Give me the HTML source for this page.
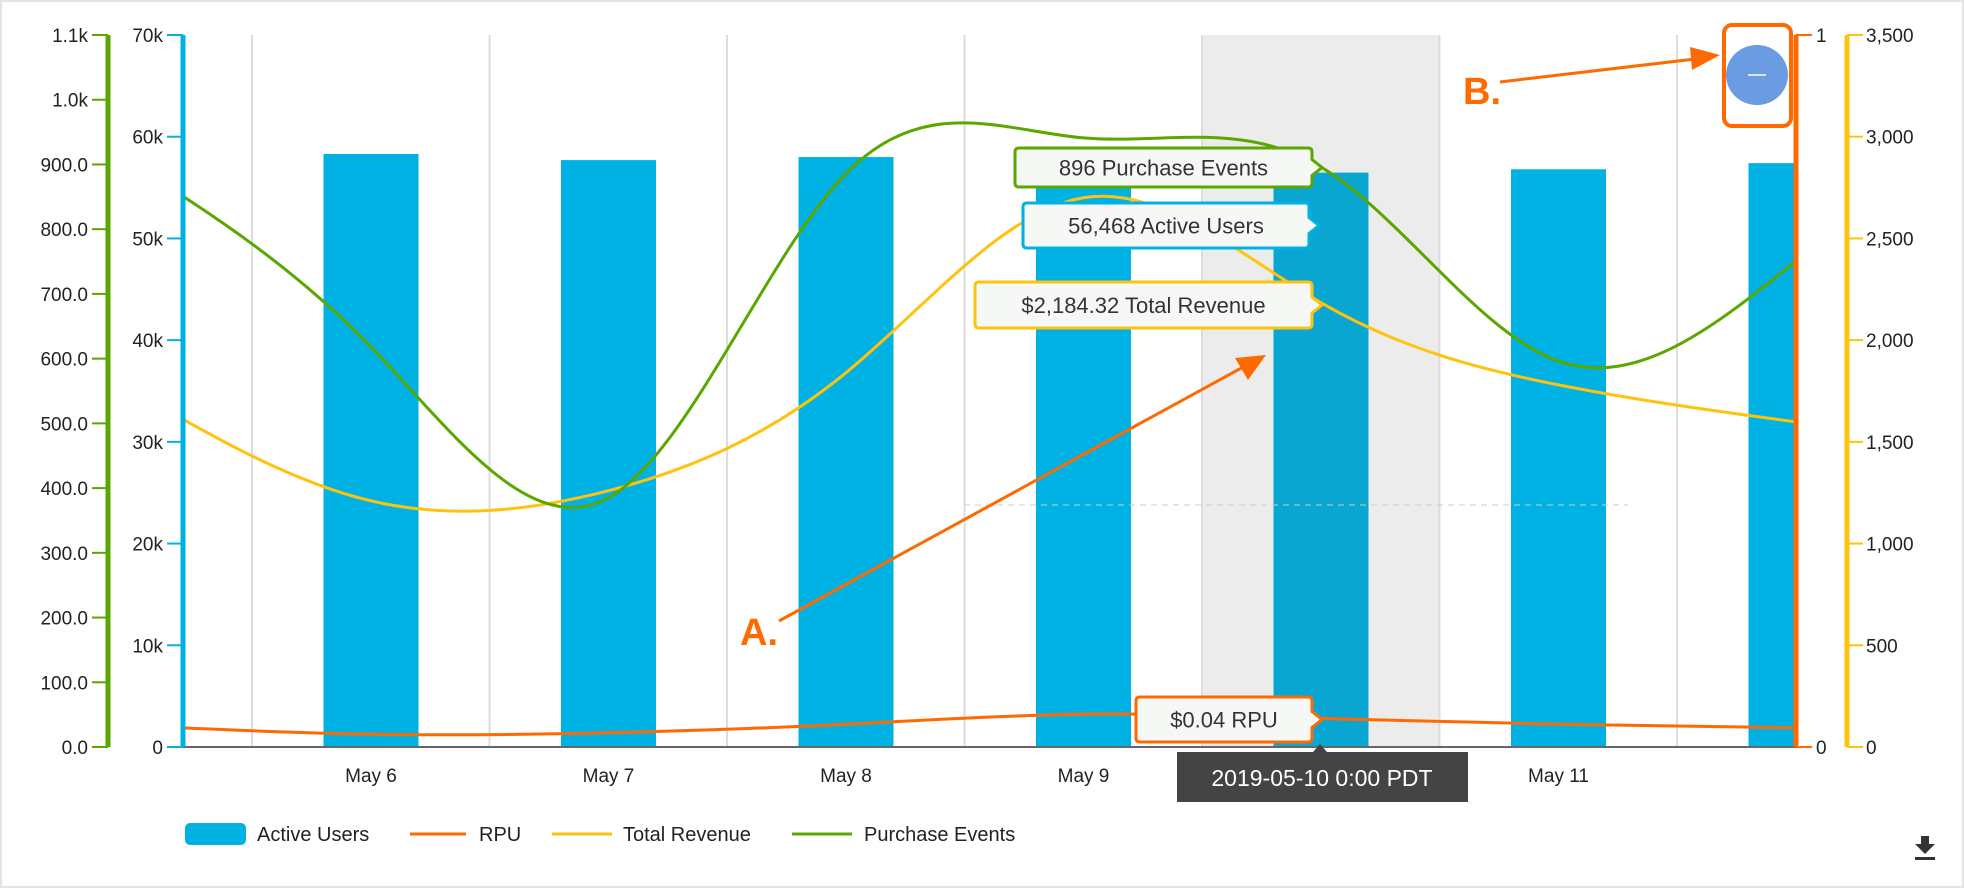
<!DOCTYPE html>
<html><head><meta charset="utf-8"><style>
html,body{margin:0;padding:0;background:#fff;}
svg{display:block;font-family:"Liberation Sans",sans-serif;}
</style></head><body>
<svg id="c" width="1964" height="888" viewBox="0 0 1964 888" xmlns="http://www.w3.org/2000/svg">
<rect x="1" y="1" width="1962" height="886" fill="#fff" stroke="#e4e4e4" stroke-width="2"/>
<defs><clipPath id="pc"><rect x="183" y="20" width="1613" height="727"/></clipPath></defs>
<g id="grid"></g>
<g id="bars" clip-path="url(#pc)"></g>
<line x1="964" y1="505" x2="1628" y2="505" stroke="#ccc" stroke-dasharray="6,5"/>
<g id="lines" clip-path="url(#pc)"></g>
<g id="axes"></g>
<g id="tips"></g>
</svg>
<script>
const categories=["May 5","May 6","May 7","May 8","May 9","May 10","May 11","May 12"];
const activeUsers=[57500,58300,57700,58000,57000,56468,56800,57400];
const rpu=[0.03,0.018,0.02,0.032,0.046,0.04,0.032,0.027];
const revenue=[1750,1210,1260,1840,2700,2184.32,1780,1598];
const purchases=[900,618,385,886,941,896,596,751];
const blueTicks=[0,10000,20000,30000,40000,50000,60000,70000];
const blueLabels=["0","10k","20k","30k","40k","50k","60k","70k"];
const greenTicks=[0,100,200,300,400,500,600,700,800,900,1000,1100];
const greenLabels=["0.0","100.0","200.0","300.0","400.0","500.0","600.0","700.0","800.0","900.0","1.0k","1.1k"];
const yelTicks=[0,500,1000,1500,2000,2500,3000,3500];
const yelLabels=["0","500","1,000","1,500","2,000","2,500","3,000","3,500"];
const rpuTicks=[0,1];
const NS="http://www.w3.org/2000/svg";
const TOP=35,BOT=747,X0=133.5,STEP=237.5;
const xs=i=>X0+i*STEP;
const yB=v=>BOT-v/70000*(BOT-TOP);
const yG=v=>BOT-v/1100*(BOT-TOP);
const yY=v=>BOT-v/3500*(BOT-TOP);
const yR=v=>BOT-v/1*(BOT-TOP);
function mk(t,a,p){const e=document.createElementNS(NS,t);for(const k in a)e.setAttribute(k,a[k]);(p||document.getElementById('c')).appendChild(e);return e;}
const grid=document.getElementById('grid'),bars=document.getElementById('bars'),lines=document.getElementById('lines'),axes=document.getElementById('axes');
let band=mk('rect',{x:xs(5)-119,y:TOP,width:238,height:BOT-TOP,fill:'#ececec'},grid);


for(let i=0;i<categories.length;i++){
  const gx=xs(i)-119;
  if(gx>183){let g=mk('line',{x1:gx,y1:TOP,x2:gx,y2:BOT,stroke:'#dcdcdc','stroke-width':2},grid);
  
  }
}
for(let i=0;i<categories.length;i++){
  let b=mk('rect',{x:xs(i)-47.5,y:yB(activeUsers[i]),width:95,height:BOT-yB(activeUsers[i]),fill:i==5?'#08a6d0':'#00b2e3'},bars);
  
  
  if(i>0 && i<7){let t=mk('text',{x:xs(i),y:782,'text-anchor':'middle','font-size':19,fill:'#222'},axes);t.textContent=categories[i];
  
  
  if(i==5)t.setAttribute('opacity','0');}
}
// natural cubic spline (like d3.curveNatural)
function ctrl(x){const n=x.length-1;const a=new Array(n),b=new Array(n),r=new Array(n);
a[0]=0;b[0]=2;r[0]=x[0]+2*x[1];
for(let i=1;i<n-1;i++){a[i]=1;b[i]=4;r[i]=4*x[i]+2*x[i+1];}
a[n-1]=2;b[n-1]=7;r[n-1]=8*x[n-1]+x[n];
for(let i=1;i<n;i++){const m=a[i]/b[i-1];b[i]-=m;r[i]-=m*r[i-1];}
a[n-1]=r[n-1]/b[n-1];
for(let i=n-2;i>=0;i--)a[i]=(r[i]-a[i+1])/b[i];
b[n-1]=(x[n]+a[n-1])/2;
for(let i=0;i<n-1;i++)b[i]=2*x[i+1]-a[i+1];
return [a,b];}
function path(vals,fy){const X=vals.map((v,i)=>xs(i)),Y=vals.map(v=>fy(v));
const [ax,bx]=ctrl(X),[ay,by]=ctrl(Y);let d='M'+X[0]+','+Y[0];
for(let i=0;i<X.length-1;i++)d+=' C'+ax[i]+','+ay[i]+' '+bx[i]+','+by[i]+' '+X[i+1]+','+Y[i+1];return d;}
let l1=mk('path',{d:path(revenue,yY),fill:'none',stroke:'#ffc20e','stroke-width':3},lines);


let l2=mk('path',{d:path(purchases,yG),fill:'none',stroke:'#5aa700','stroke-width':3},lines);


let l3=mk('path',{d:path(rpu,yR),fill:'none',stroke:'#ff6a00','stroke-width':3},lines);


let xa=mk('line',{x1:183,y1:BOT,x2:1796,y2:BOT,stroke:'#666','stroke-width':2},axes);


function axis(x,color,ticks,labels,fy,side,name,lx){
  let a=mk('line',{x1:x,y1:TOP,x2:x,y2:BOT,stroke:color,'stroke-width':5},axes);
  
  
  ticks.forEach((v,i)=>{const y=fy(v);
    mk('line',{x1:side<0?x-16:x,y1:y,x2:side<0?x:x+16,y2:y,stroke:color,'stroke-width':2},axes);
    let t=mk('text',{x:lx,y:y+7,'text-anchor':side<0?'end':'start','font-size':19,fill:'#222'},axes);t.textContent=labels[i];
    
    });
}
axis(108,'#5aa700',greenTicks,greenLabels,yG,-1,'y-axis-purchase-events',88);
axis(183,'#00b2e3',blueTicks,blueLabels,yB,-1,'y-axis-active-users',163);
axis(1796,'#ff6a00',rpuTicks,["0","1"],yR,1,'y-axis-rpu',1816);
axis(1847,'#ffc20e',yelTicks,yelLabels,yY,1,'y-axis-total-revenue',1866);
const tips=document.getElementById('tips');
function tip(x,y,w,h,color,text,name){
  const px=x+w;const py=y+h/2;
  let p=mk('path',{d:`M${x+4},${y} H${px-4} Q${px},${y} ${px},${y+4} V${py-8} L${px+10},${py} L${px},${py+8} V${y+h-4} Q${px},${y+h} ${px-4},${y+h} H${x+4} Q${x},${y+h} ${x},${y+h-4} V${y+4} Q${x},${y} ${x+4},${y} Z`,fill:'#f6f8f6',stroke:color,'stroke-width':3},tips);
  
  
  let t=mk('text',{x:x+w/2,y:y+h/2+8,'text-anchor':'middle','font-size':22,fill:'#333'},tips);t.textContent=text;
  
  
}
tip(1015,148,297,39,'#5aa700','896 Purchase Events','tooltip-purchase-events');
tip(1023,203,286,45,'#00b2e3','56,468 Active Users','tooltip-active-users');
tip(975,282,337,46,'#ffc20e','$2,184.32 Total Revenue','tooltip-total-revenue');
tip(1136,697,176,45,'#ff6a00','$0.04 RPU','tooltip-rpu');
let dl=mk('rect',{x:1177,y:752,width:291,height:50,fill:'#444'},tips);


mk('path',{d:'M1313,752 L1320,744 L1327,752 Z',fill:'#444'},tips);
let dt=mk('text',{x:1322,y:786,'text-anchor':'middle','font-size':23,fill:'#fff'},tips);dt.textContent='2019-05-10 0:00 PDT';


let arA=mk('line',{x1:779,y1:621,x2:1245,y2:366,stroke:'#ff6a00','stroke-width':3},tips);


mk('path',{d:'M1266,355 L1235,358 L1248,380 Z',fill:'#ff6a00'},tips);
let ta=mk('text',{x:740,y:645,'font-size':38,'font-weight':'bold',fill:'#ff6a00'},tips);ta.textContent='A.';


let arB=mk('line',{x1:1500,y1:82,x2:1695,y2:59,stroke:'#ff6a00','stroke-width':3},tips);


mk('path',{d:'M1720,55 L1690,47 L1692,70 Z',fill:'#ff6a00'},tips);
let tb=mk('text',{x:1463,y:104,'font-size':38,'font-weight':'bold',fill:'#ff6a00'},tips);tb.textContent='B.';


let rb=mk('rect',{x:1724,y:25,width:67,height:101,rx:8,fill:'none',stroke:'#ff6a00','stroke-width':4},tips);


let zb=mk('ellipse',{cx:1757,cy:75,rx:31,ry:30,fill:'#6b9be3'},tips);


mk('line',{x1:1748,y1:75,x2:1766,y2:75,stroke:'#fff','stroke-width':1.5},tips);
function leg(x,w,color,isBar,text,tx,name){
  let s=isBar?mk('rect',{x:x,y:823,width:w,height:22,rx:5,fill:color},tips):mk('line',{x1:x,y1:834,x2:x+w,y2:834,stroke:color,'stroke-width':3},tips);
  
  
  let t=mk('text',{x:tx,y:841,'font-size':20,fill:'#222'},tips);t.textContent=text;
  
  
}
leg(185,61,'#00b2e3',true,'Active Users',257,'legend-active-users');
leg(410,56,'#ff6a00',false,'RPU',479,'legend-rpu');
leg(552,60,'#ffc20e',false,'Total Revenue',623,'legend-total-revenue');
leg(792,60,'#5aa700',false,'Purchase Events',864,'legend-purchase-events');
let di=mk('g',{},tips);


mk('path',{d:'M1921,836 h8 v8 h6 l-10,10 l-10,-10 h6 z',fill:'#333'},di);
mk('rect',{x:1915,y:857,width:20,height:3,fill:'#333'},di);
</script>
</body></html>
